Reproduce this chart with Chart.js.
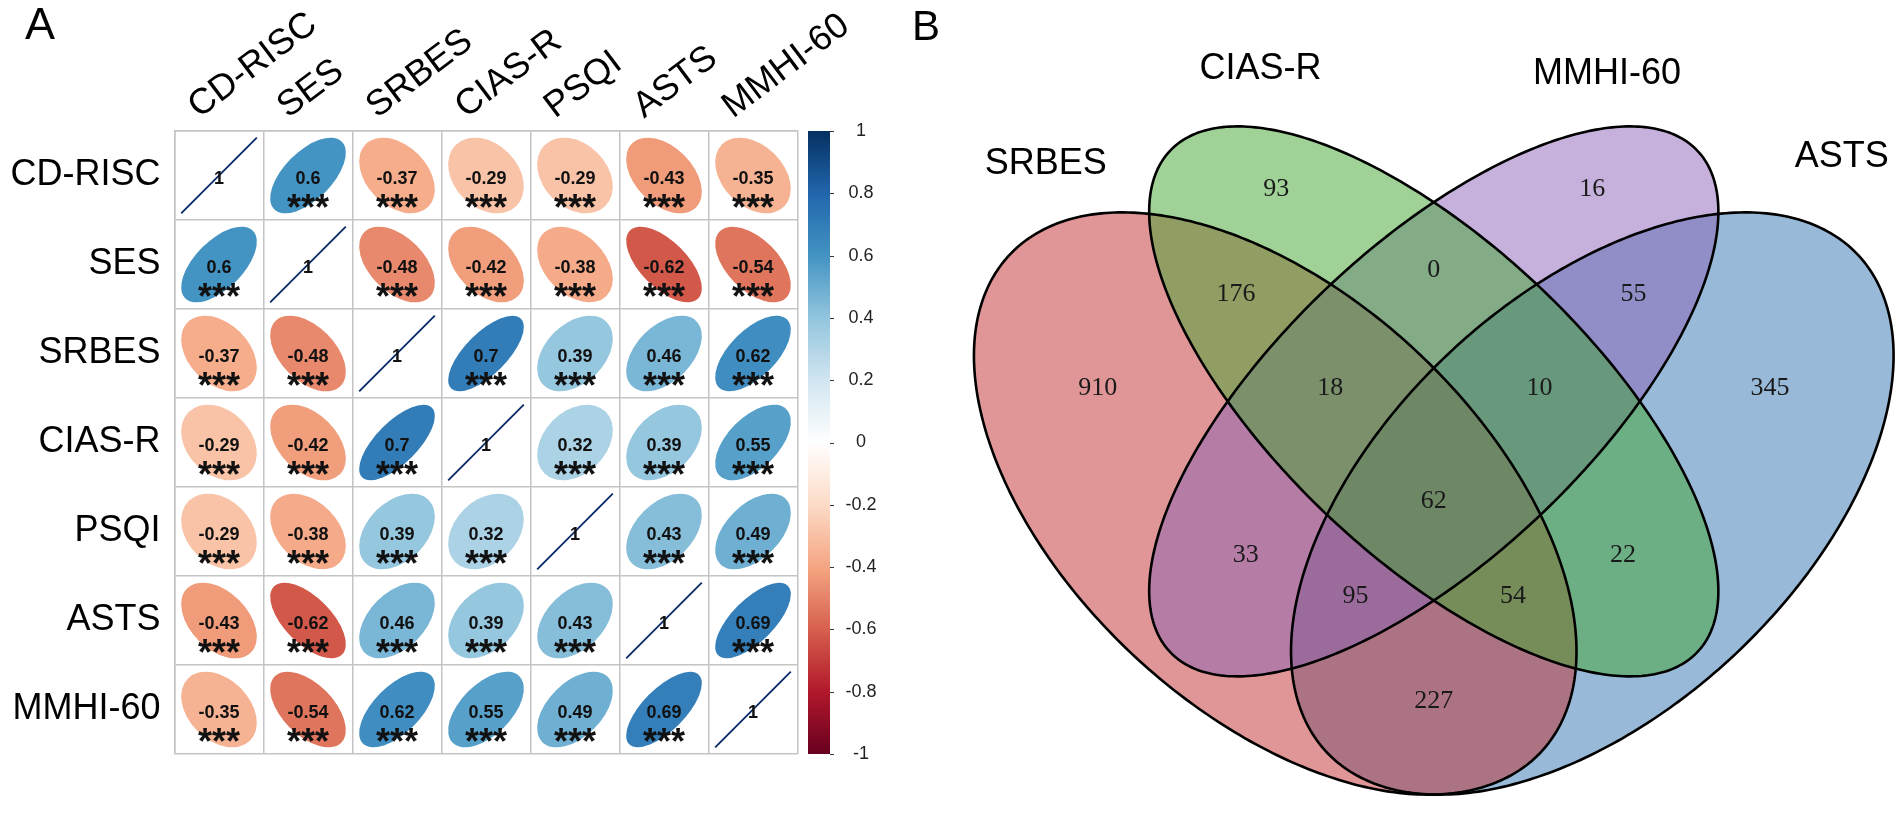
<!DOCTYPE html>
<html>
<head>
<meta charset="utf-8">
<script src="https://cdn.jsdelivr.net/npm/chart.js@4.4.1/dist/chart.umd.min.js"></script>
<style>
  html, body { margin: 0; padding: 0; background: #fff; }
  #wrap { position: relative; width: 1902px; height: 814px; overflow: hidden; background: #fff; }
  #corr { position: absolute; left: 0; top: 0; }
  #venn { position: absolute; left: 900px; top: 0; }
</style>
</head>
<body>
<div id="wrap">
  <canvas id="corr" width="900" height="814"></canvas>
  <canvas id="venn" width="1002" height="814"></canvas>
</div>
<script>
/* ── data: panel A, correlation matrix ── */
const variables = ['CD-RISC', 'SES', 'SRBES', 'CIAS-R', 'PSQI', 'ASTS', 'MMHI-60'];
const rCDRISC = [1, 0.6, -0.37, -0.29, -0.29, -0.43, -0.35];
const rSES    = [0.6, 1, -0.48, -0.42, -0.38, -0.62, -0.54];
const rSRBES  = [-0.37, -0.48, 1, 0.7, 0.39, 0.46, 0.62];
const rCIASR  = [-0.29, -0.42, 0.7, 1, 0.32, 0.39, 0.55];
const rPSQI   = [-0.29, -0.38, 0.39, 0.32, 1, 0.43, 0.49];
const rASTS   = [-0.43, -0.62, 0.46, 0.39, 0.43, 1, 0.69];
const rMMHI60 = [-0.35, -0.54, 0.62, 0.55, 0.49, 0.69, 1];
const sigMark = '***';

/* ── data: panel B, Venn counts ── */
const vennSets = ['SRBES', 'CIAS-R', 'MMHI-60', 'ASTS'];
const vennRegions = [
  ['SRBES'], ['CIAS-R'], ['MMHI-60'], ['ASTS'],
  ['SRBES', 'CIAS-R'], ['CIAS-R', 'MMHI-60'], ['MMHI-60', 'ASTS'],
  ['SRBES', 'CIAS-R', 'MMHI-60'], ['CIAS-R', 'MMHI-60', 'ASTS'],
  ['SRBES', 'CIAS-R', 'MMHI-60', 'ASTS'],
  ['SRBES', 'MMHI-60'], ['CIAS-R', 'ASTS'],
  ['SRBES', 'MMHI-60', 'ASTS'], ['SRBES', 'CIAS-R', 'ASTS'],
  ['SRBES', 'ASTS']
];
const vennCounts = [910, 93, 16, 345, 176, 0, 55, 18, 10, 62, 33, 22, 95, 54, 227];

/* ── styles / layout ── */
const SANS = '"Liberation Sans", Arial, Helvetica, sans-serif';
const SERIF = '"Liberation Serif", "Times New Roman", serif';
const GRID = '#c4c4c4';
const RDBU = ['#67001F', '#B2182B', '#D6604D', '#F4A582', '#FDDBC7', '#FFFFFF',
              '#D1E5F0', '#92C5DE', '#4393C3', '#2166AC', '#053061'];

// venn geometry in unit (npc) coordinates, drawn in this order
const vennShapes = {
  'ASTS':    { cx: 0.65, cy: 0.47, a: 0.35, b: 0.20, rot: 45,  fill: 'rgba(49,115,177,0.5)' },
  'SRBES':   { cx: 0.35, cy: 0.47, a: 0.35, b: 0.20, rot: 135, fill: 'rgba(193,45,45,0.5)' },
  'MMHI-60': { cx: 0.50, cy: 0.57, a: 0.35, b: 0.15, rot: 45,  fill: 'rgba(139,99,183,0.5)' },
  'CIAS-R':  { cx: 0.50, cy: 0.57, a: 0.35, b: 0.15, rot: 135, fill: 'rgba(65,165,49,0.5)' }
};
const drawOrder = ['ASTS', 'SRBES', 'MMHI-60', 'CIAS-R'];
const setLabelPos = { 'SRBES': [0.133, 0.802], 'CIAS-R': [0.336, 0.895], 'MMHI-60': [0.664, 0.890], 'ASTS': [0.886, 0.809] };
const regionLabelPos = [
  [0.182, 0.583], [0.351, 0.778], [0.650, 0.778], [0.818, 0.583],
  [0.313, 0.675], [0.500, 0.698], [0.689, 0.675],
  [0.402, 0.583], [0.600, 0.583],
  [0.500, 0.472],
  [0.322, 0.419], [0.679, 0.419],
  [0.426, 0.379], [0.575, 0.379],
  [0.500, 0.276]
];
const VX = [-0.005, 0.943];
const VY = [0.166, 0.963];

function hexRgb(h) { return [1, 3, 5].map(i => parseInt(h.substr(i, 2), 16)); }
function corrColor(r) {
  const p = (r + 1) / 2 * (RDBU.length - 1);
  const i = Math.min(Math.floor(p), RDBU.length - 2);
  const t = p - i;
  const a = hexRgb(RDBU[i]), b = hexRgb(RDBU[i + 1]);
  return 'rgb(' + a.map((v, k) => Math.round(v + (b[k] - v) * t)).join(',') + ')';
}

const corrMatrix = [rCDRISC, rSES, rSRBES, rCIASR, rPSQI, rASTS, rMMHI60];
const corrPoints = [];
corrMatrix.forEach((row, i) => row.forEach((v, j) => {
  corrPoints.push({ x: variables[j], y: variables[i], v, diag: i === j });
}));

function panelLabel(text, x, y, size) {
  return {
    id: 'panel' + text,
    afterDraw(chart) {
      const ctx = chart.ctx;
      ctx.save();
      ctx.fillStyle = '#000';
      ctx.font = size + 'px ' + SANS;
      ctx.textAlign = 'left';
      ctx.textBaseline = 'alphabetic';
      ctx.fillText(text, x, y);
      ctx.restore();
    }
  };
}

/* ── ellipses of the correlation plot ── */
const corrEllipses = {
  id: 'corrEllipses',
  afterDatasetsDraw(chart) {
    const { ctx, scales: { x } } = chart;
    const cell = x.getPixelForValue(1) - x.getPixelForValue(0);
    const meta = chart.getDatasetMeta(0);
    const pts = chart.data.datasets[0].data;
    ctx.save();
    meta.data.forEach((el, i) => {
      const p = pts[i];
      const cx = el.x, cy = el.y;
      if (p.diag) {
        const h = 0.85 * cell / 2;
        ctx.strokeStyle = '#0a2a66';
        ctx.lineWidth = 1.8;
        ctx.beginPath();
        ctx.moveTo(cx - h, cy + h);
        ctx.lineTo(cx + h, cy - h);
        ctx.stroke();
      } else {
        const d = Math.acos(p.v);
        const rx = 0.85 * cell * Math.cos(d / 2) / Math.SQRT2;
        const ry = 0.85 * cell * Math.sin(d / 2) / Math.SQRT2;
        ctx.fillStyle = corrColor(p.v);
        ctx.beginPath();
        ctx.ellipse(cx, cy, rx, ry, -Math.PI / 4, 0, Math.PI * 2);
        ctx.fill();
      }
      ctx.fillStyle = '#111';
      ctx.textAlign = 'center';
      ctx.textBaseline = 'alphabetic';
      ctx.font = 'bold 18px ' + SANS;
      ctx.fillText(String(p.v), cx, cy + 8.5);
      if (!p.diag) {
        ctx.font = 'bold 36px ' + SANS;
        ctx.fillText(sigMark, cx, cy + 44);
      }
    });
    ctx.restore();
  }
};

const colorBar = {
  id: 'colorBar',
  afterDraw(chart) {
    const { ctx, chartArea } = chart;
    const cb = chart.scales.cb;
    const top = cb.getPixelForValue(1), bot = cb.getPixelForValue(-1);
    const x0 = chartArea.right + 10.5, w = 22;
    ctx.save();
    const g = ctx.createLinearGradient(0, bot, 0, top);
    RDBU.forEach((c, i) => g.addColorStop(i / (RDBU.length - 1), c));
    ctx.fillStyle = g;
    ctx.fillRect(x0, top, w, bot - top);
    ctx.strokeStyle = '#333';
    ctx.lineWidth = 1;
    cb.ticks.forEach(t => {
      const y = Math.round(cb.getPixelForValue(t.value)) + 0.5;
      ctx.beginPath();
      ctx.moveTo(x0 + w, y);
      ctx.lineTo(x0 + w + 4, y);
      ctx.stroke();
    });
    ctx.restore();
  }
};

new Chart(document.getElementById('corr'), {
  type: 'scatter',
  data: { datasets: [{ data: corrPoints, pointRadius: 0, pointHoverRadius: 0 }] },
  options: {
    responsive: false,
    animation: false,
    events: [],
    layout: { padding: { left: 0, top: 0, right: 0, bottom: 60 } },
    plugins: { legend: { display: false }, tooltip: { enabled: false } },
    scales: {
      x: {
        type: 'category', labels: variables, position: 'top', offset: true,
        grid: { offset: true, color: GRID, lineWidth: 1.5, drawTicks: false },
        border: { color: GRID, width: 1.5 },
        ticks: { autoSkip: false, minRotation: 37, maxRotation: 37, padding: 3, color: '#000', font: { size: 36, family: SANS } },
        afterFit(s) { s.height = 131; s.paddingLeft = 0; s.paddingRight = 0; }
      },
      y: {
        type: 'category', labels: variables, position: 'left', offset: true,
        grid: { offset: true, color: GRID, lineWidth: 1.5, drawTicks: false },
        border: { color: GRID, width: 1.5 },
        ticks: { autoSkip: false, padding: 14, color: '#000', font: { size: 36, family: SANS } },
        afterFit(s) { s.width = 174.5; s.paddingTop = 0; s.paddingBottom = 0; }
      },
      cb: {
        type: 'linear', position: 'right', min: -1, max: 1,
        grid: { display: false }, border: { display: false },
        ticks: {
          stepSize: 0.2, crossAlign: 'center', padding: 40, color: '#222',
          font: { size: 18, family: SANS },
          callback: v => String(Math.round(v * 10) / 10)
        },
        afterFit(s) { s.width = 102.5; s.paddingTop = 0; s.paddingBottom = 0; }
      }
    }
  },
  plugins: [corrEllipses, colorBar, panelLabel('A', 25, 39, 45)]
});

/* ── Venn diagram ── */
function ellipsePath(ctx, sx, sy, e) {
  const th = e.rot * Math.PI / 180;
  ctx.beginPath();
  for (let k = 0; k <= 360; k++) {
    const t = k * Math.PI / 180;
    const u = e.cx + e.a * Math.cos(t) * Math.cos(th) - e.b * Math.sin(t) * Math.sin(th);
    const v = e.cy + e.a * Math.cos(t) * Math.sin(th) + e.b * Math.sin(t) * Math.cos(th);
    const px = sx.getPixelForValue(u), py = sy.getPixelForValue(v);
    if (k) ctx.lineTo(px, py); else ctx.moveTo(px, py);
  }
  ctx.closePath();
}

const vennPlugin = {
  id: 'venn',
  afterDatasetsDraw(chart) {
    const { ctx, scales: { x, y } } = chart;
    ctx.save();
    drawOrder.forEach(name => {
      ellipsePath(ctx, x, y, vennShapes[name]);
      ctx.fillStyle = vennShapes[name].fill;
      ctx.fill();
    });
    ctx.strokeStyle = '#000';
    ctx.lineWidth = 2.6;
    drawOrder.forEach(name => {
      ellipsePath(ctx, x, y, vennShapes[name]);
      ctx.stroke();
    });

    ctx.textAlign = 'center';
    ctx.textBaseline = 'middle';
    ctx.fillStyle = '#1a1a1a';
    ctx.font = '26px ' + SERIF;
    vennRegions.forEach((r, i) => {
      const [u, v] = regionLabelPos[i];
      ctx.fillText(String(vennCounts[i]), x.getPixelForValue(u), y.getPixelForValue(v));
    });

    ctx.fillStyle = '#000';
    ctx.font = '36px ' + SANS;
    vennSets.forEach(s => {
      const [u, v] = setLabelPos[s];
      ctx.fillText(s, x.getPixelForValue(u), y.getPixelForValue(v));
    });
    ctx.restore();
  }
};

new Chart(document.getElementById('venn'), {
  type: 'scatter',
  data: { datasets: [{ data: [], pointRadius: 0 }] },
  options: {
    responsive: false,
    animation: false,
    events: [],
    layout: { padding: 0 },
    plugins: { legend: { display: false }, tooltip: { enabled: false } },
    scales: {
      x: { type: 'linear', min: VX[0], max: VX[1], display: false },
      y: { type: 'linear', min: VY[0], max: VY[1], display: false }
    }
  },
  plugins: [vennPlugin, panelLabel('B', 12, 40, 42)]
});
</script>
</body>
</html>
